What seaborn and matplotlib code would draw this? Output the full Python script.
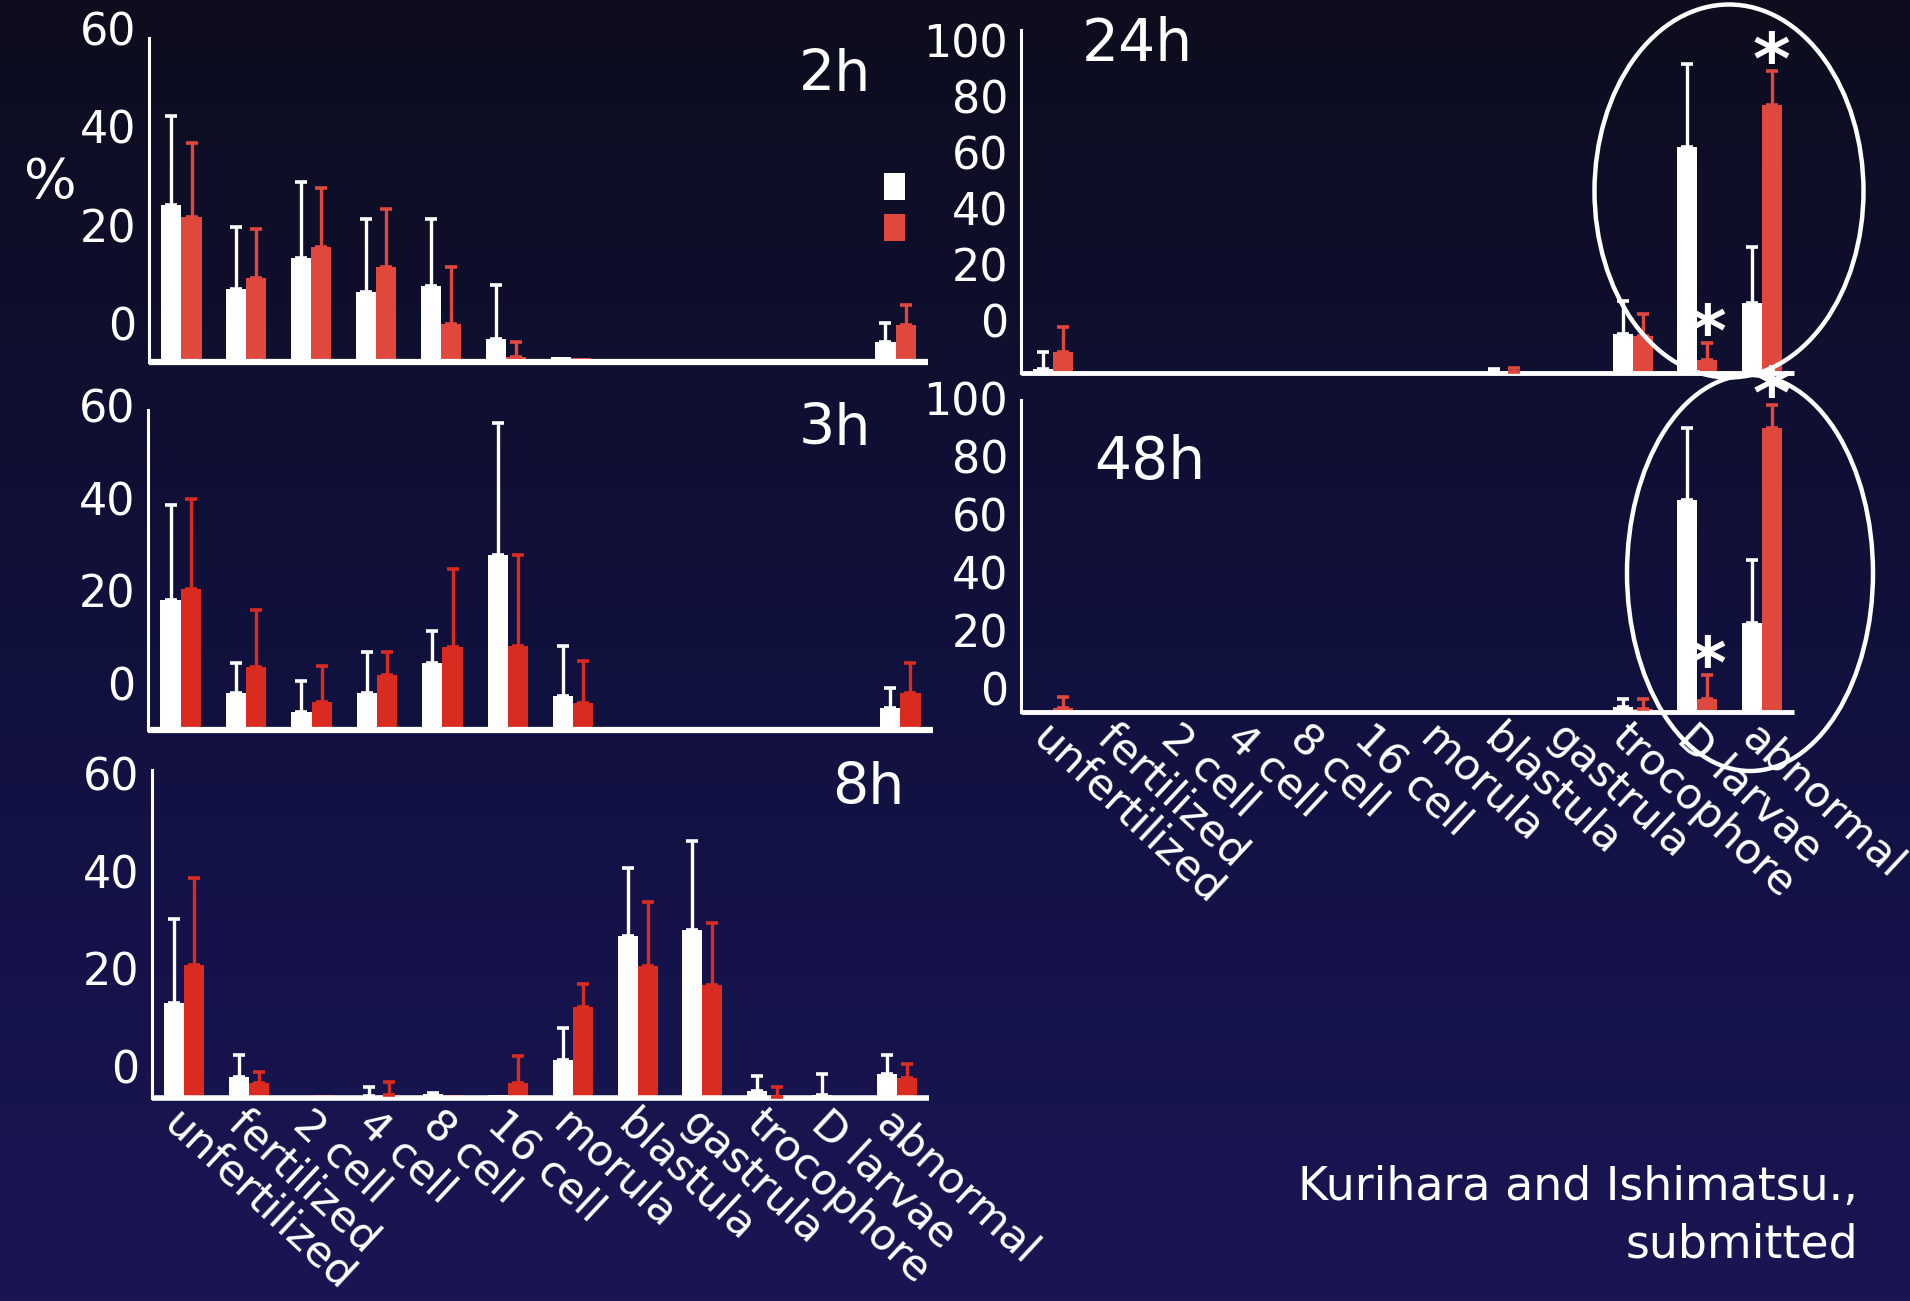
import numpy as np
import pandas as pd
import matplotlib
matplotlib.use("Agg")
import matplotlib.pyplot as plt
import seaborn as sns
from matplotlib.patches import Ellipse, Patch

# ---------------------------------------------------------------- data
stages = ["unfertilized", "fertilized", "2 cell", "4 cell", "8 cell", "16 cell",
          "morula", "blastula", "gastrula", "trocophore", "D larvae", "abnormal"]
groups = ["control", "CO2"]

# 2 h after fertilization (% of individuals, mean and SD)
h2_ctrl    = [29.1, 13.6, 19.2, 12.9, 14.0, 4.3, 0.9, 0, 0, 0, 0, 3.7]
h2_ctrl_sd = [16.4, 11.4, 14.2, 13.6, 12.5, 9.9, 0, 0, 0, 0, 0, 3.5]
h2_co2     = [26.9, 15.5, 21.3, 17.6, 7.1, 0.9, 0.8, 0, 0, 0, 0, 6.8]
h2_co2_sd  = [13.6, 9.2, 10.9, 10.8, 10.5, 2.8, 0, 0, 0, 0, 0, 3.7]

# 3 h
h3_ctrl    = [24.4, 6.9, 3.4, 7.0, 12.5, 32.8, 6.4, 0, 0, 0, 0, 4.1]
h3_ctrl_sd = [17.8, 5.6, 5.7, 7.7, 6.1, 24.7, 9.4, 0, 0, 0, 0, 3.7]
h3_co2     = [26.4, 11.9, 5.3, 10.3, 15.6, 15.8, 5.0, 0, 0, 0, 0, 7.0]
h3_co2_sd  = [17.0, 10.6, 6.7, 4.4, 14.5, 17.1, 7.9, 0, 0, 0, 0, 5.6]

# 8 h
h8_ctrl    = [17.4, 3.9, 0, 0.3, 0.7, 0.5, 6.9, 29.7, 30.8, 1.3, 0.5, 4.4]
h8_ctrl_sd = [15.4, 4.0, 0, 1.7, 0.2, 0, 5.9, 12.3, 16.3, 2.8, 3.8, 3.5]
h8_co2     = [24.4, 2.8, 0.5, 0.5, 0.5, 2.8, 16.7, 24.1, 20.7, 0.1, 0, 3.7]
h8_co2_sd  = [15.9, 1.9, 0, 2.5, 0, 4.9, 4.1, 11.8, 11.4, 1.9, 0, 2.5]

# 24 h
h24_ctrl    = [1.2, 0, 0, 0, 0, 0, 0, 0.3, 0, 11.4, 66.0, 20.3]
h24_ctrl_sd = [4.8, 0, 0, 0, 0, 0, 0, 0.8, 0, 9.6, 24.0, 16.3]
h24_co2     = [6.0, 0, 0.4, 0, 0, 0, 0, 0.3, 0, 10.9, 3.9, 78.0]
h24_co2_sd  = [7.4, 0, 0, 0, 0, 0, 0, 1.2, 0, 6.2, 4.9, 10.0]

# 48 h
h48_ctrl    = [0.3, 0, 0, 0, 0, 0, 0, 0, 0, 1.6, 68.0, 28.6]
h48_ctrl_sd = [0, 0, 0, 0, 0, 0, 0, 0, 0, 2.5, 23.0, 20.0]
h48_co2     = [1.3, 0, 0, 0, 0, 0, 0, 0.5, 0, 1.1, 4.1, 91.0]
h48_co2_sd  = [3.5, 0, 0, 0, 0, 0, 0, 0, 0, 3.2, 7.7, 7.5]

# stages where the CO2 group differs significantly (24 h and 48 h)
signif_stages = ["D larvae", "abnormal"]

pct_ticks_short = [0, 20, 40, 60]
pct_ticks_long = [0, 20, 40, 60, 80, 100]

# ---------------------------------------------------------------- style
sns.set_style("white")
plt.rcParams["font.family"] = ["DejaVu Sans"]
plt.rcParams["axes.facecolor"] = "none"

W, H = 1910, 1301
fig = plt.figure(figsize=(W / 100, H / 100), dpi=100)

# dark navy backdrop, a little bluer towards the bottom
stops = np.array([[13, 13, 30], [15, 15, 46], [17, 17, 62], [21, 19, 74], [26, 22, 84]]) / 255
t = np.linspace(0, 1, 400)
grad = np.stack([np.interp(t, np.linspace(0, 1, len(stops)), stops[:, c]) for c in range(3)], axis=-1)
bg = fig.add_axes([0, 0, 1, 1], zorder=-10)
bg.imshow(grad[:, None, :], aspect="auto", extent=[0, 1, 0, 1], origin="upper")
bg.axis("off")


def px_axes(left, right, top, bottom):
    return fig.add_axes([left / W, 1 - bottom / H, (right - left) / W, (bottom - top) / H])


def panel(ax, ctrl, ctrl_sd, co2, co2_sd, red, ymax, ticks, shift, base_lw, stars=False,
          labels=False):
    df = pd.DataFrame({
        "stage": stages * 2,
        "group": [groups[0]] * len(stages) + [groups[1]] * len(stages),
        "pct": list(ctrl) + list(co2),
    })
    sns.barplot(data=df, x="stage", y="pct", hue="group", order=stages, hue_order=groups,
                palette={groups[0]: "white", groups[1]: red}, width=0.62, errorbar=None,
                saturation=1, legend=False, linewidth=0, ax=ax)

    # upper-only SD whiskers on top of each bar
    for cont, sd, col in zip(ax.containers, [ctrl_sd, co2_sd], ["white", red]):
        xs, ys, es = [], [], []
        for bar, s in zip(cont, sd):
            if s > 0:
                xs.append(bar.get_x() + bar.get_width() / 2)
                ys.append(bar.get_height())
                es.append(s)
        if xs:
            ax.errorbar(xs, ys, yerr=[np.zeros(len(es)), es], fmt="none", ecolor=col,
                        elinewidth=2.4, capsize=4.5, capthick=2.6, zorder=3)

    if stars:
        cont = ax.containers[1]
        for st in signif_stages:
            i = stages.index(st)
            bar = cont[i]
            top = bar.get_height() + co2_sd[i]
            ax.annotate("*", xy=(bar.get_x() + bar.get_width() / 2, top),
                        xytext=(0, -13), textcoords="offset pixels", ha="center",
                        va="baseline", fontsize=52, fontweight="bold", color="white",
                        zorder=5, annotation_clip=False)

    ax.set_xlim(-0.5, len(stages) - 0.5)
    ax.set_ylim(0, ymax)
    ax.set_xlabel("")
    ax.set_ylabel("")
    sns.despine(ax=ax)
    ax.spines["left"].set_color("white")
    ax.spines["left"].set_linewidth(2.2)
    ax.spines["bottom"].set_color("white")
    ax.spines["bottom"].set_linewidth(base_lw)
    ax.spines["bottom"].set_capstyle("butt")

    ax.set_yticks(ticks)
    ax.set_yticklabels([])
    ax.tick_params(axis="y", direction="out", length=5, width=2, color="white")
    ax.set_xticks(range(len(stages)))
    ax.set_xticklabels([])
    ax.tick_params(axis="x", length=0)
    ax.set_xticks(np.arange(0.5, len(stages) - 0.5), minor=True)
    ax.tick_params(axis="x", which="minor", direction="out", length=4, width=1.5,
                   color="white")

    # percentage labels beside the axis
    top_shift, bottom_shift = shift
    for v in ticks:
        dy = bottom_shift + (top_shift - bottom_shift) * v / ymax
        ax.annotate(f"{v}", xy=(0, v), xycoords=("axes fraction", "data"),
                    xytext=(-13, dy), textcoords="offset pixels", ha="right",
                    va="center", fontsize=32, color="white", annotation_clip=False)

    if labels:
        for i, s in enumerate(stages):
            ax.annotate(s, xy=(i, 0), xycoords=("data", "axes fraction"),
                        xytext=(0, -4), textcoords="offset pixels", rotation=-43,
                        rotation_mode="anchor", ha="left", va="top", fontsize=31,
                        color="white", annotation_clip=False)


red_soft = "#e0483e"
red_deep = "#da2b20"

ax2 = px_axes(149, 928, 38, 362)
panel(ax2, h2_ctrl, h2_ctrl_sd, h2_co2, h2_co2_sd, red_soft, 60, pct_ticks_short,
      (5, 34), 4.5)
ax2.legend([Patch(facecolor="white", edgecolor="none"),
            Patch(facecolor=red_soft, edgecolor="none")], ["", ""],
           loc="upper left", bbox_to_anchor=(0.9435, 0.583), frameon=False,
           borderpad=0, borderaxespad=0, handlelength=0.75, handleheight=1.1,
           handletextpad=0, labelspacing=0.45, fontsize=20)

ax3 = px_axes(148, 933, 410, 730)
panel(ax3, h3_ctrl, h3_ctrl_sd, h3_co2, h3_co2_sd, red_deep, 60, pct_ticks_short,
      (0, 42), 4.5)

ax8 = px_axes(152, 929, 770, 1098)
panel(ax8, h8_ctrl, h8_ctrl_sd, h8_co2, h8_co2_sd, red_deep, 60, pct_ticks_short,
      (-8, 27), 4.0, labels=True)

ax24 = px_axes(1021, 1794, 30, 373)
panel(ax24, h24_ctrl, h24_ctrl_sd, h24_co2, h24_co2_sd, red_soft, 100, pct_ticks_long,
      (-15, 48), 3.5, stars=True)

ax48 = px_axes(1021, 1794, 400, 712)
panel(ax48, h48_ctrl, h48_ctrl_sd, h48_co2, h48_co2_sd, red_soft, 100, pct_ticks_long,
      (-3, 19), 3.5, stars=True, labels=True)


def fig_text(x, y, s, **kw):
    fig.text(x / W, 1 - y / H, s, color="white", **kw)


fig_text(871, 91, "2h", ha="right", va="baseline", fontsize=41)
fig_text(871, 445, "3h", ha="right", va="baseline", fontsize=41)
fig_text(904, 804, "8h", ha="right", va="baseline", fontsize=41)
fig_text(1082, 61, "24h", ha="left", va="baseline", fontsize=42)
fig_text(1094, 479, "48h", ha="left", va="baseline", fontsize=42)
fig_text(50, 183, "%", ha="center", va="center", fontsize=40)
fig_text(1858, 1200, "Kurihara and Ishimatsu.,", ha="right", va="baseline", fontsize=33)
fig_text(1858, 1257, "submitted", ha="right", va="baseline", fontsize=33)

# rings around the larval stages at 24 h and 48 h
for cx, cy, w, h in [(1729, 191, 269, 373), (1750, 573, 246, 396)]:
    fig.add_artist(Ellipse((cx / 100, (H - cy) / 100), w / 100, h / 100,
                           transform=fig.dpi_scale_trans, fill=False,
                           edgecolor="white", linewidth=3.2, zorder=20))

fig.savefig("out.png", dpi=100)
